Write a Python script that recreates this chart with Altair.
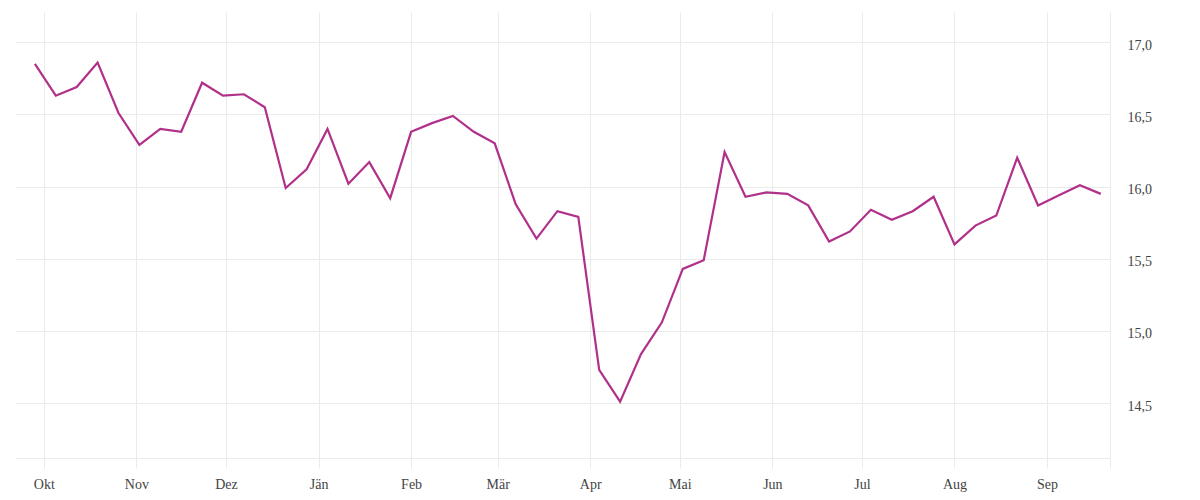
import altair as alt
import pandas as pd

dates = [
    "2019-09-28", "2019-10-05", "2019-10-12", "2019-10-19", "2019-10-26",
    "2019-11-02", "2019-11-09", "2019-11-16", "2019-11-23", "2019-11-30",
    "2019-12-07", "2019-12-14", "2019-12-21", "2019-12-28",
    "2020-01-04", "2020-01-11", "2020-01-18", "2020-01-25",
    "2020-02-01", "2020-02-08", "2020-02-15", "2020-02-22", "2020-02-29",
    "2020-03-07", "2020-03-14", "2020-03-21", "2020-03-28",
    "2020-04-04", "2020-04-11", "2020-04-18", "2020-04-25",
    "2020-05-02", "2020-05-09", "2020-05-16", "2020-05-23", "2020-05-30",
    "2020-06-06", "2020-06-13", "2020-06-20", "2020-06-27",
    "2020-07-04", "2020-07-11", "2020-07-18", "2020-07-25",
    "2020-08-01", "2020-08-08", "2020-08-15", "2020-08-22", "2020-08-29",
    "2020-09-05", "2020-09-12", "2020-09-19",
]
values = [
    16.85, 16.63, 16.69, 16.86, 16.51,
    16.29, 16.40, 16.38, 16.72, 16.63,
    16.64, 16.55, 15.99, 16.12,
    16.40, 16.02, 16.17, 15.92,
    16.38, 16.44, 16.49, 16.38, 16.30,
    15.88, 15.64, 15.83, 15.79,
    14.73, 14.51, 14.84, 15.06,
    15.43, 15.49, 16.24, 15.93, 15.96,
    15.95, 15.87, 15.62, 15.69,
    15.84, 15.77, 15.83, 15.93,
    15.60, 15.73, 15.80, 16.20, 15.87,
    15.94, 16.01, 15.95,
]
month_names = ["Jän", "Feb", "Mär", "Apr", "Mai", "Jun", "Jul", "Aug", "Sep", "Okt", "Nov", "Dez"]
month_ticks = [
    "2019-10-01", "2019-11-01", "2019-12-01", "2020-01-01", "2020-02-01", "2020-03-01",
    "2020-04-01", "2020-05-01", "2020-06-01", "2020-07-01", "2020-08-01", "2020-09-01",
]
x_domain = ["2019-09-21T08:00:00", "2020-09-22T02:00:00"]
y_ticks = [14.5, 15.0, 15.5, 16.0, 16.5, 17.0]
y_domain = [14.12, 17.21]


def ms(s):
    return int(pd.Timestamp(s, tz="UTC").value // 10**6)


df = pd.DataFrame({"date": dates, "value": values})

GRID = "#ebebeb"
FONT = "Liberation Serif"
names_js = "[" + ",".join("'%s'" % m for m in month_names) + "]"

chart = alt.Chart(df).mark_line(color="#b0308a", strokeWidth=2.2).encode(
    x=alt.X(
        "date:T",
        scale=alt.Scale(type="utc", domain=[ms(d) for d in x_domain], nice=False),
        axis=alt.Axis(
            title=None,
            values=[ms(d) for d in month_ticks] + [ms(x_domain[1])],
            labelExpr="utcdate(datum.value) == 1 ? " + names_js + "[utcmonth(datum.value)] : ''",
            grid=True,
            gridColor=GRID,
            domain=True,
            domainColor=GRID,
            ticks=True,
            tickColor=GRID,
            tickSize=10,
            labelPadding=9,
            labelFont=FONT,
            labelFontSize=14,
            labelColor="#444444",
        ),
    ),
    y=alt.Y(
        "value:Q",
        scale=alt.Scale(domain=y_domain, nice=False, zero=False),
        axis=alt.Axis(
            title=None,
            orient="right",
            values=y_ticks,
            labelExpr="replace(format(datum.value, '.1f'), '.', ',')",
            grid=True,
            gridColor=GRID,
            domain=False,
            ticks=False,
            labelPadding=17,
            labelOffset=3,
            labelFont=FONT,
            labelFontSize=14,
            labelColor="#444444",
        ),
    ),
).properties(
    width=1095,
    height=446,
    background="white",
    autosize=alt.AutoSizeParams(type="none"),
    padding={"left": 7, "top": 4, "right": 80, "bottom": 34},
).configure_view(strokeOpacity=0, strokeWidth=0)

chart.save("out.html", embed_options={"renderer": "svg", "actions": False})
